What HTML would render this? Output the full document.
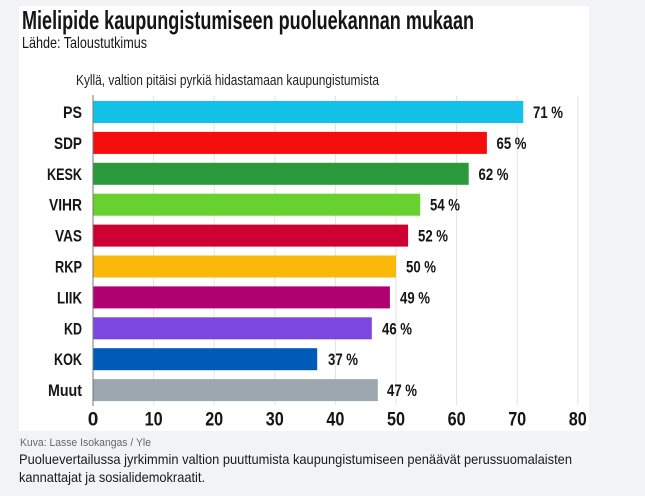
<!DOCTYPE html>
<html><head><meta charset="utf-8"><style>
html,body{margin:0;padding:0;background:#f1f3f6;}
svg{display:block;}
text{font-family:"Liberation Sans",sans-serif;}
</style></head><body>
<svg width="645" height="496" viewBox="0 0 645 496" xmlns="http://www.w3.org/2000/svg">
<rect x="0" y="0" width="645" height="496" fill="#f1f3f6"/>
<rect x="19" y="6" width="570" height="425" fill="#ffffff"/>
<text x="22" y="29" font-size="26" font-weight="bold" fill="#151515" textLength="452" lengthAdjust="spacingAndGlyphs">Mielipide kaupungistumiseen puoluekannan mukaan</text>
<text x="22" y="48" font-size="16" fill="#151515" textLength="125" lengthAdjust="spacingAndGlyphs">Lähde: Taloustutkimus</text>
<text x="76" y="85" font-size="15" fill="#222" textLength="303" lengthAdjust="spacingAndGlyphs">Kyllä, valtion pitäisi pyrkiä hidastamaan kaupungistumista</text>
<g stroke="#e3e3e3" stroke-width="1">
<line x1="153.6" y1="96" x2="153.6" y2="405"/>
<line x1="214.2" y1="96" x2="214.2" y2="405"/>
<line x1="274.8" y1="96" x2="274.8" y2="405"/>
<line x1="335.4" y1="96" x2="335.4" y2="405"/>
<line x1="396" y1="96" x2="396" y2="405"/>
<line x1="456.6" y1="96" x2="456.6" y2="405"/>
<line x1="517.2" y1="96" x2="517.2" y2="405"/>
<line x1="577.8" y1="96" x2="577.8" y2="405"/>
</g>
<g>
<rect x="93" y="101" width="430.3" height="22" fill="#13c0e8"/>
<rect x="93" y="131.9" width="393.9" height="22" fill="#f50d0d"/>
<rect x="93" y="162.8" width="375.7" height="22" fill="#2a9a3c"/>
<rect x="93" y="193.7" width="327.2" height="22" fill="#67d12f"/>
<rect x="93" y="224.6" width="315.1" height="22" fill="#cc0033"/>
<rect x="93" y="255.5" width="303" height="22" fill="#fbb70a"/>
<rect x="93" y="286.4" width="296.9" height="22" fill="#b1006f"/>
<rect x="93" y="317.3" width="278.8" height="22" fill="#7b47e0"/>
<rect x="93" y="348.2" width="224.2" height="22" fill="#005bb8"/>
<rect x="93" y="379.1" width="284.8" height="22" fill="#9da7b0"/>
</g>
<line x1="93" y1="95" x2="93" y2="406" stroke="#777" stroke-width="1"/>
<g font-size="17" font-weight="bold" fill="#151515" text-anchor="end">
<text x="82" y="118" textLength="19" lengthAdjust="spacingAndGlyphs">PS</text>
<text x="82" y="148.9" textLength="28" lengthAdjust="spacingAndGlyphs">SDP</text>
<text x="82" y="179.8" textLength="35" lengthAdjust="spacingAndGlyphs">KESK</text>
<text x="82" y="210.7" textLength="33" lengthAdjust="spacingAndGlyphs">VIHR</text>
<text x="82" y="241.6" textLength="27" lengthAdjust="spacingAndGlyphs">VAS</text>
<text x="82" y="272.5" textLength="27" lengthAdjust="spacingAndGlyphs">RKP</text>
<text x="82" y="303.4" textLength="25" lengthAdjust="spacingAndGlyphs">LIIK</text>
<text x="82" y="334.3" textLength="18" lengthAdjust="spacingAndGlyphs">KD</text>
<text x="82" y="365.2" textLength="28" lengthAdjust="spacingAndGlyphs">KOK</text>
<text x="82" y="396.1" textLength="34" lengthAdjust="spacingAndGlyphs">Muut</text>
</g>
<g font-size="17" font-weight="bold" fill="#151515">
<text x="533" y="118" textLength="30" lengthAdjust="spacingAndGlyphs">71 %</text>
<text x="496.5" y="148.9" textLength="30" lengthAdjust="spacingAndGlyphs">65 %</text>
<text x="478.5" y="179.8" textLength="30" lengthAdjust="spacingAndGlyphs">62 %</text>
<text x="430" y="210.7" textLength="30" lengthAdjust="spacingAndGlyphs">54 %</text>
<text x="418" y="241.6" textLength="30" lengthAdjust="spacingAndGlyphs">52 %</text>
<text x="406" y="272.5" textLength="30" lengthAdjust="spacingAndGlyphs">50 %</text>
<text x="400" y="303.4" textLength="30" lengthAdjust="spacingAndGlyphs">49 %</text>
<text x="382" y="334.3" textLength="30" lengthAdjust="spacingAndGlyphs">46 %</text>
<text x="328" y="365.2" textLength="30" lengthAdjust="spacingAndGlyphs">37 %</text>
<text x="387" y="396.1" textLength="30" lengthAdjust="spacingAndGlyphs">47 %</text>
</g>
<g font-size="19" font-weight="bold" fill="#151515" text-anchor="middle">
<text x="93" y="425.5">0</text>
<text x="153.6" y="425.5" textLength="18" lengthAdjust="spacingAndGlyphs">10</text>
<text x="214.2" y="425.5" textLength="18" lengthAdjust="spacingAndGlyphs">20</text>
<text x="274.8" y="425.5" textLength="18" lengthAdjust="spacingAndGlyphs">30</text>
<text x="335.4" y="425.5" textLength="18" lengthAdjust="spacingAndGlyphs">40</text>
<text x="396" y="425.5" textLength="18" lengthAdjust="spacingAndGlyphs">50</text>
<text x="456.6" y="425.5" textLength="18" lengthAdjust="spacingAndGlyphs">60</text>
<text x="517.2" y="425.5" textLength="18" lengthAdjust="spacingAndGlyphs">70</text>
<text x="577.8" y="425.5" textLength="18" lengthAdjust="spacingAndGlyphs">80</text>
</g>
<text x="20" y="446" font-size="11" fill="#666" textLength="131" lengthAdjust="spacingAndGlyphs">Kuva: Lasse Isokangas / Yle</text>
<text x="19" y="464" font-size="14" fill="#1a1a1a" textLength="553" lengthAdjust="spacingAndGlyphs">Puoluevertailussa jyrkimmin valtion puuttumista kaupungistumiseen penäävät perussuomalaisten</text>
<text x="19" y="482" font-size="14" fill="#1a1a1a" textLength="186" lengthAdjust="spacingAndGlyphs">kannattajat ja sosialidemokraatit.</text>
</svg>
</body></html>
